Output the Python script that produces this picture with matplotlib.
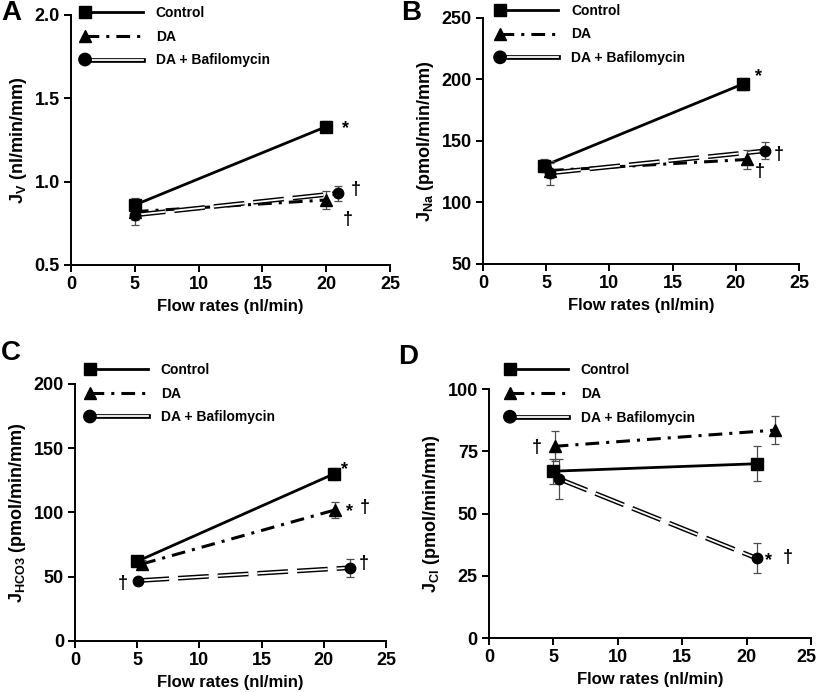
import matplotlib
matplotlib.use('Agg')
import matplotlib.pyplot as plt
import matplotlib.patheffects as pe
import matplotlib.transforms as mtrans
from matplotlib.legend_handler import HandlerLine2D
from matplotlib.lines import Line2D

plt.rcParams['font.family'] = ['Liberation Sans', 'DejaVu Sans']
plt.rcParams['font.weight'] = 'bold'
plt.rcParams['mathtext.default'] = 'regular'

series_names = ['Control', 'DA', 'DA + Bafilomycin']
x_ticks = [0, 5, 10, 15, 20, 25]

# A - Jv (nl/min/mm)
a_x_ctrl = [5, 20]
a_y_ctrl = [0.86, 1.33]
a_e_ctrl = [0.04, 0.035]
a_x_da = [5, 20]
a_y_da = [0.82, 0.89]
a_e_da = [0.05, 0.055]
a_x_baf = [5, 20.9]
a_y_baf = [0.80, 0.93]
a_e_baf = [0.06, 0.045]
a_marks = [(21.5, 1.32, '*'), (22.3, 0.95, '†'), (21.7, 0.77, '†')]

# B - JNa (pmol/min/mm)
b_x_ctrl = [4.85, 20.6]
b_y_ctrl = [130, 196.5]
b_e_ctrl = [5, 5]
b_x_da = [5.3, 20.9]
b_y_da = [126, 135]
b_e_da = [6, 8]
b_x_baf = [5.3, 22.3]
b_y_baf = [124, 142]
b_e_baf = [10, 7]
b_marks = [(21.8, 202, '*'), (23.4, 139, '†'), (21.9, 125, '†')]

# C - JHCO3 (pmol/min/mm)
c_x_ctrl = [5.0, 20.8]
c_y_ctrl = [62, 130]
c_e_ctrl = [2, 5]
c_x_da = [5.4, 20.9]
c_y_da = [60, 102]
c_e_da = [3, 6]
c_x_baf = [5.1, 22.1]
c_y_baf = [47, 57]
c_e_baf = [2, 7]
c_marks = [(21.7, 133, '*'), (22.1, 101, '*'), (23.3, 104, '†'), (23.2, 60, '†'), (3.8, 45, '†')]

# D - JCl (pmol/min/mm)
d_x_ctrl = [5.0, 20.8]
d_y_ctrl = [67, 70]
d_e_ctrl = [5, 7]
d_x_da = [5.1, 22.2]
d_y_da = [77, 83.5]
d_e_da = [6, 5.5]
d_x_baf = [5.4, 20.8]
d_y_baf = [64, 32]
d_e_baf = [8, 6]
d_marks = [(21.7, 31, '*'), (23.2, 32.5, '†'), (3.7, 76.5, '†')]

double_fx = [pe.Stroke(linewidth=3.4, foreground='black'), pe.Normal()]


class MarkerLeft(HandlerLine2D):
    def create_artists(self, legend, orig_handle, xdescent, ydescent, width, height, fontsize, trans):
        arts = super().create_artists(legend, orig_handle, xdescent, ydescent, width, height, fontsize, trans)
        arts[0].set_markevery([0])
        return arts


def draw_panel(ax, data, ylim, yticks, yfmt, ylabel, marks, leg_xy):
    (xc, yc, ec), (xd, yd, ed), (xb, yb, eb) = data
    ax.plot(xc, yc, color='black', lw=2, zorder=3)
    ax.plot(xd, yd, color='black', lw=2.2, dashes=(4.5, 2.3, 1, 2.3), zorder=3)
    ax.plot(xb, yb, color='white', lw=1.3, dashes=(17, 5), path_effects=double_fx, zorder=3)
    for x, y, e in [(xc, yc, ec), (xd, yd, ed), (xb, yb, eb)]:
        ax.errorbar(x, y, yerr=e, fmt='none', ecolor='0.3', elinewidth=0.9,
                    capsize=3, capthick=0.9, zorder=4)
    ax.plot(xc, yc, ls='none', marker='s', ms=9, color='black', zorder=5)
    ax.plot(xd, yd, ls='none', marker='^', ms=9, color='black', zorder=5)
    ax.plot(xb, yb, ls='none', marker='o', ms=7.5, color='black', zorder=5)
    for x, y, s in marks:
        ax.text(x, y, s, fontsize=13, ha='center', va='center')

    ax.set_xlim(0, 25)
    ax.set_ylim(*ylim)
    ax.set_xticks(x_ticks)
    ax.set_yticks(yticks)
    ax.set_yticklabels([yfmt % v for v in yticks])
    ax.spines['top'].set_visible(False)
    ax.spines['right'].set_visible(False)
    for s in ['left', 'bottom']:
        ax.spines[s].set_linewidth(1.4)
        ax.spines[s].set_clip_on(False)
    ax.tick_params(direction='out', length=5, width=1.4, labelsize=13, pad=3)
    ax.set_xlabel('Flow rates (nl/min)', fontsize=12, fontweight='bold', labelpad=4)
    ax.set_ylabel(ylabel, fontsize=13, fontweight='bold', labelpad=4)

    h_ctrl = Line2D([], [], color='black', lw=2, marker='s', ms=9)
    h_da = Line2D([], [], color='black', lw=2.2, dashes=(4.5, 2.3, 1, 2.3), marker='^', ms=9)
    h_baf = Line2D([], [], color='white', lw=1.3, marker='o', ms=6.5,
                   mfc='black', mec='black', path_effects=double_fx)
    ax.legend([h_ctrl, h_da, h_baf], series_names, loc='upper left', bbox_to_anchor=leg_xy,
              frameon=False, numpoints=1, handlelength=4.2, handletextpad=0.9,
              labelspacing=0.7, borderpad=0, borderaxespad=0,
              prop={'size': 10, 'weight': 'bold'},
              handler_map={Line2D: MarkerLeft()})


fig = plt.figure(figsize=(8.17, 6.92), dpi=100)
ax_a = fig.add_axes([0.0869, 0.6171, 0.3905, 0.3613])
ax_b = fig.add_axes([0.5912, 0.6185, 0.3868, 0.3555])
ax_c = fig.add_axes([0.0918, 0.0737, 0.3807, 0.3714])
ax_d = fig.add_axes([0.5985, 0.0780, 0.3941, 0.3598])

draw_panel(ax_a, [(a_x_ctrl, a_y_ctrl, a_e_ctrl), (a_x_da, a_y_da, a_e_da), (a_x_baf, a_y_baf, a_e_baf)],
           (0.5, 2.0), [0.5, 1.0, 1.5, 2.0], '%.1f', r'$\mathregular{J_V}$ (nl/min/mm)',
           a_marks, (0.044, 1.036))
draw_panel(ax_b, [(b_x_ctrl, b_y_ctrl, b_e_ctrl), (b_x_da, b_y_da, b_e_da), (b_x_baf, b_y_baf, b_e_baf)],
           (50, 250), [50, 100, 150, 200, 250], '%d', r'$\mathregular{J_{Na}}$ (pmol/min/mm)',
           b_marks, (0.054, 1.058))
draw_panel(ax_c, [(c_x_ctrl, c_y_ctrl, c_e_ctrl), (c_x_da, c_y_da, c_e_da), (c_x_baf, c_y_baf, c_e_baf)],
           (0, 200), [0, 50, 100, 150, 200], '%d', r'$\mathregular{J_{HCO3}}$ (pmol/min/mm)',
           c_marks, (0.048, 1.082))
draw_panel(ax_d, [(d_x_ctrl, d_y_ctrl, d_e_ctrl), (d_x_da, d_y_da, d_e_da), (d_x_baf, d_y_baf, d_e_baf)],
           (0, 100), [0, 25, 50, 75, 100], '%d', r'$\mathregular{J_{Cl}}$ (pmol/min/mm)',
           d_marks, (0.065, 1.104))

# keep the last x label of panel D inside the figure
last = ax_d.get_xticklabels()[-1]
last.set_ha('right')
last.set_transform(last.get_transform() + mtrans.ScaledTranslation(5 / 100, 0, fig.dpi_scale_trans))

for letter, fx, fy in [('A', 0.014, 0.981), ('B', 0.503, 0.981), ('C', 0.013, 0.49), ('D', 0.5, 0.484)]:
    fig.text(fx, fy, letter, fontsize=20, fontweight='bold', ha='center', va='center')

fig.savefig('out.png', dpi=100)
